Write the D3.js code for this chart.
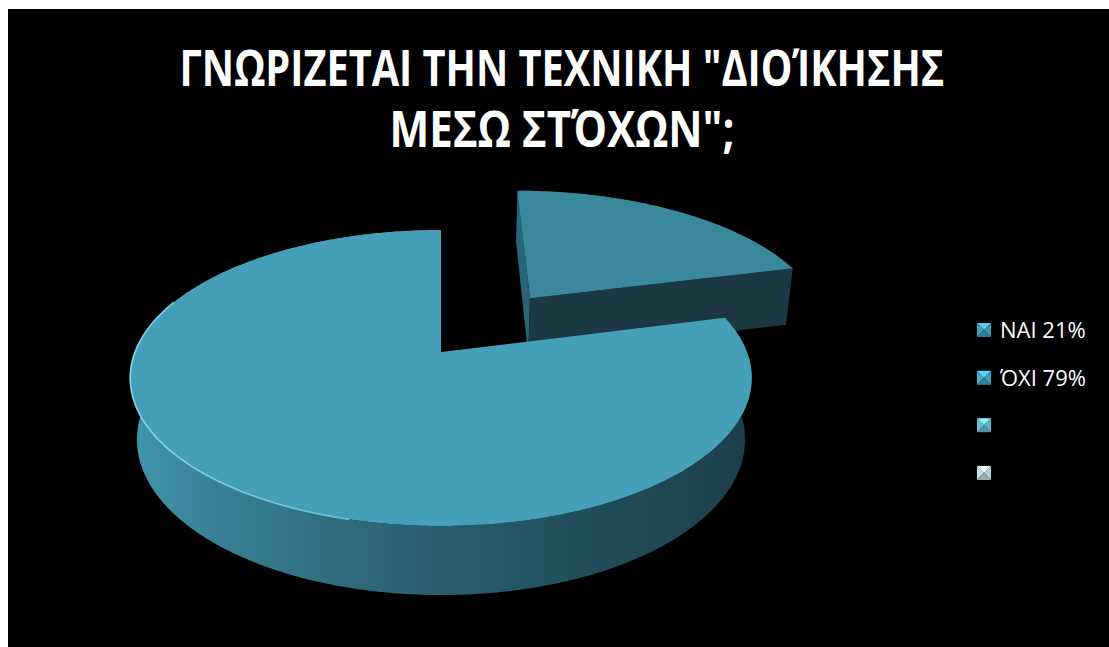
<!DOCTYPE html>
<html>
<head>
<meta charset="utf-8">
<script src="https://cdn.jsdelivr.net/npm/d3@7"></script>
<style>
  html, body { margin: 0; padding: 0; background: #ffffff; }
  svg { display: block; }
</style>
</head>
<body>
<div id="chart"></div>
<script>
// ---- data ----
const categories = ["NAI 21%", "ΌΧΙ 79%", "", ""];
const values = [21, 79];
const titleLines = ["ΓΝΩΡΙΖΕΤΑΙ ΤΗΝ ΤΕΧΝΙΚΗ \"ΔΙΟΊΚΗΣΗΣ", "ΜΕΣΩ ΣΤΌΧΩΝ\";"];

// ---- styling ----
const W = 1109, H = 647;
const topColors = ["#3a889c", "#459fb8"];
const edgeColors = ["#1b3843", "#24586a"];
const markerColors = ["#3c97b0", "#3f9db6", "#62b2c8", "#b3cdd8"];

const svg = d3.select("#chart").append("svg")
  .attr("width", W).attr("height", H);

const defs = svg.append("defs");

// panel
svg.append("rect").attr("x", 8).attr("y", 9)
  .attr("width", W - 8).attr("height", H - 9).attr("fill", "#000");

// ---- title (condensed to the panel's title width) ----
const title = svg.append("g").attr("fill", "#fff")
  .attr("font-family", "'Liberation Sans Narrow', 'Open Sans', sans-serif")
  .attr("font-weight", 700).attr("font-size", 50)
  .attr("text-anchor", "middle");
const titleWidths = [765, 345];
const titleBase = [86, 147];
title.selectAll("text").data(titleLines).join("text")
  .text(d => d)
  .each(function (d, i) {
    const natural = this.getComputedTextLength();
    const k = titleWidths[i] / natural;
    d3.select(this).attr("transform", `translate(562,${titleBase[i]}) scale(${k},1)`);
  });

// ---- 3D pie projection ----
const R = 1, depthH = 0.23;           // radius and thickness
const camD = 5.03;                     // camera distance
const tilt = Math.asin(0.4687);        // elevation of the view
const sa = Math.sin(tilt), ca = Math.cos(tilt);
const focal = 1539, cx = 441, cy = 352;
const explode = [0.508, 0];            // slice pull-out distance
const cam = [0, camD * sa, camD * ca];

function proj(X, Y, Z) {
  const dx = X - cam[0], dy = Y - cam[1], dz = Z - cam[2];
  const dep = -dy * sa - dz * ca;
  const sy = dy * ca - dz * sa;
  return [cx + focal * dx / dep, cy - focal * sy / dep];
}
function world(a, r, y, off) {
  return [off[0] + r * Math.sin(a), y, off[1] - r * Math.cos(a)];
}
function pt(a, r, y, off) { return proj(...world(a, r, y, off)); }
function arcPts(a0, a1, r, y, off) {
  const n = Math.max(2, Math.ceil(Math.abs(a1 - a0) / (Math.PI / 360)));
  return d3.range(n + 1).map(i => pt(a0 + (a1 - a0) * i / n, r, y, off));
}
function facing(normal, p) {
  return normal[0] * (cam[0] - p[0]) + normal[1] * (cam[1] - p[1]) + normal[2] * (cam[2] - p[2]) > 0;
}

const poly = d3.line().curve(d3.curveLinearClosed);
const open = d3.line();

const arcs = d3.pie().sort(null).value(d => d)(values);

// side wall gradient for the large slice
const wallGrad = defs.append("linearGradient").attr("id", "wallGrad")
  .attr("gradientUnits", "userSpaceOnUse")
  .attr("x1", 130).attr("x2", 750).attr("y1", 0).attr("y2", 0);
[[0, "#3f95ad"], [0.15, "#387f93"], [0.45, "#2b6171"], [0.7, "#22505d"], [1, "#1c3f4a"]]
  .forEach(([o, c]) => wallGrad.append("stop").attr("offset", o).attr("stop-color", c));

const rimGrad = defs.append("linearGradient").attr("id", "rimGrad")
  .attr("gradientUnits", "userSpaceOnUse")
  .attr("x1", 130).attr("x2", 480).attr("y1", 0).attr("y2", 0);
[[0, "#8ee0f5", 0.9], [0.7, "#7fd6ec", 0.7], [1, "#7fd6ec", 0]]
  .forEach(([o, c, op]) => rimGrad.append("stop").attr("offset", o)
    .attr("stop-color", c).attr("stop-opacity", op));

const pieG = svg.append("g");

// back slice first, front slice last
arcs.forEach((s, i) => {
  const mid = (s.startAngle + s.endAngle) / 2;
  const off = [explode[i] * Math.sin(mid), -explode[i] * Math.cos(mid)];
  const g = pieG.append("g");
  const wallFill = i === 1 ? "url(#wallGrad)" : "#1f4652";

  // outer curved wall
  const wall = arcPts(s.startAngle, s.endAngle, R, 0, off)
    .concat(arcPts(s.endAngle, s.startAngle, R, -depthH, off));
  g.append("path").attr("d", poly(wall)).attr("fill", wallFill);

  // radial walls that face the viewer
  [[s.startAngle, -1], [s.endAngle, 1]].forEach(([a, sign]) => {
    const n = [sign * Math.cos(a), 0, sign * Math.sin(a)];
    const p = world(a, R / 2, -depthH / 2, off);
    if (!facing(n, p)) return;
    const quad = [pt(a, 0, 0, off), pt(a, R, 0, off), pt(a, R, -depthH, off), pt(a, 0, -depthH, off)];
    g.append("path").attr("d", poly(quad))
      .attr("fill", sign < 0 ? "#2a6577" : edgeColors[i]);
  });

  // top face
  const top = [pt(0, 0, 0, off)].concat(arcPts(s.startAngle, s.endAngle, R, 0, off));
  g.append("path").attr("d", poly(top)).attr("fill", topColors[i]);

  // light rim along the front edge of the large slice
  if (i === 1) {
    g.append("path")
      .attr("d", open(arcPts(Math.PI * 1.08, Math.PI * 1.62, R, 0, off)))
      .attr("fill", "none").attr("stroke", "url(#rimGrad)").attr("stroke-width", 1.6);
  }
});

// ---- legend ----
const ly = d3.scalePoint().domain(d3.range(categories.length)).range([330, 473]);
const legend = svg.append("g");
categories.forEach((c, i) => {
  const y0 = ly(i), x0 = 977, s = 14;
  const base = d3.color(markerColors[i]);
  const g = legend.append("g");
  const tl = [x0, y0 - s / 2], tr = [x0 + s, y0 - s / 2],
        br = [x0 + s, y0 + s / 2], bl = [x0, y0 + s / 2], mc = [x0 + s / 2, y0];
  g.append("path").attr("d", poly([tl, tr, mc])).attr("fill", base.brighter(0.9));
  g.append("path").attr("d", poly([tl, mc, bl])).attr("fill", base.brighter(0.2));
  g.append("path").attr("d", poly([tr, br, mc])).attr("fill", base);
  g.append("path").attr("d", poly([bl, mc, br])).attr("fill", base.darker(0.5));
  legend.append("text")
    .attr("x", 1000).attr("y", y0).attr("dy", "0.36em")
    .attr("fill", "#fff")
    .attr("font-family", "'Open Sans', sans-serif")
    .attr("font-size", 22)
    .text(c);
});
</script>
</body>
</html>
